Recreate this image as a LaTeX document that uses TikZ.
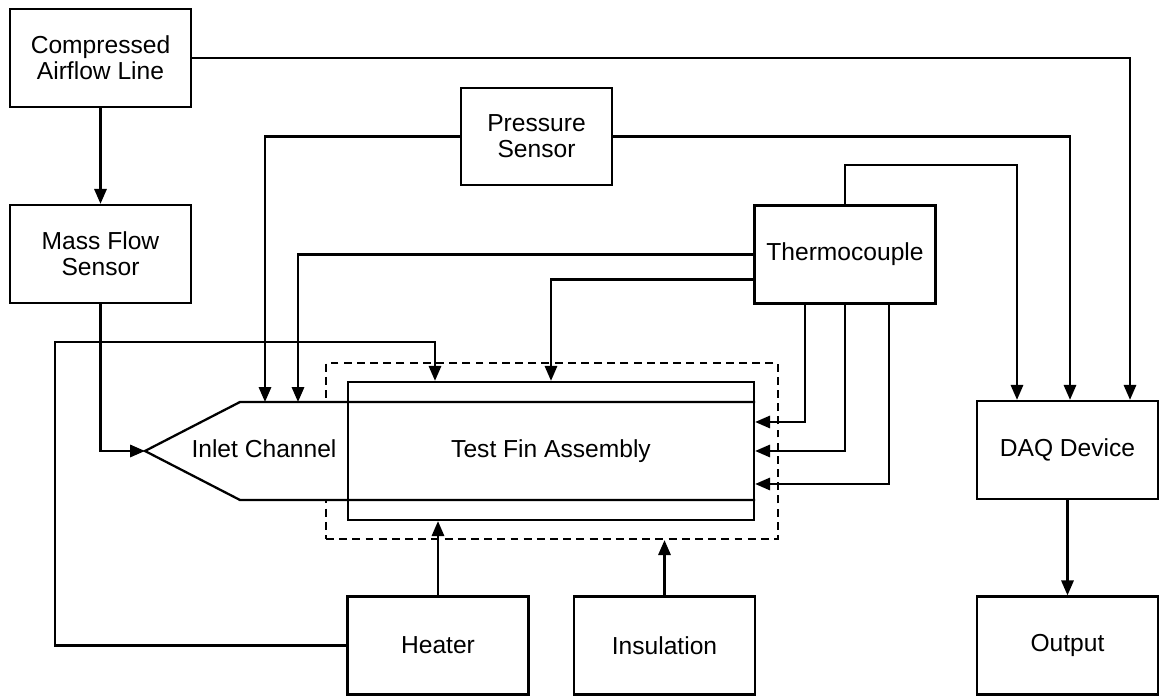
\documentclass[tikz,border=0pt]{standalone}
\usepackage{fontspec}
\setsansfont{Liberation Sans}
\usetikzlibrary{arrows.meta, positioning, calc}

\begin{document}
\begin{tikzpicture}[line width=1.3pt,
          box/.style={draw,minimum width=3.62cm,minimum height=1.96cm,
                      align=center,inner sep=2pt},
          arr/.style={-{Triangle[length=8.5pt,width=7pt]}},
          every node/.style={font=\sffamily\fontsize{14}{14.8}\selectfont}]
        \useasboundingbox (0,0) rectangle (23.2,13.92);
        % boxes
        \node[box](air)  at (2.01,12.76) {Compressed\\Airflow Line};
        \node[box](mfs)  at (2.01,8.84)  {Mass Flow\\Sensor};
        \node[box,minimum width=3.02cm,minimum height=1.94cm](pres) at (10.73,11.19)
          {Pressure\\Sensor};
        \node[box](tc)   at (16.9,8.83)  {Thermocouple};
        \node[box](daq)  at (21.35,4.92) {DAQ Device};
        \node[box](out)  at (21.35,1.01) {Output};
        \node[box](heat) at (8.76,1.01)  {Heater};
        \node[box](ins)  at (13.29,1.01) {Insulation};
        % test section
        \node[draw,dashed,dash pattern=on 4.5pt off 3pt,minimum width=9.04cm,
              minimum height=3.52cm](shield) at (11.04,4.9) {};
        \coordinate (chtop) at (4.8,5.88);
        \coordinate (chbot) at (4.8,3.92);
        \coordinate (tip)   at (2.9,4.9);
        \fill[white] (15.08,5.88) -- (chtop) -- (tip) -- (chbot) -- (15.08,3.92) -- cycle;
        \node[draw,minimum width=8.12cm,minimum height=2.76cm](fin) at (11.02,4.9)
          {Test Fin Assembly};
        \draw (fin.east |- chtop) -- (chtop) -- (tip) -- (chbot) -- (fin.east |- chbot);
        \node(inlet) at (5.28,4.95) {Inlet Channel};
        % connectors
        \draw[arr](air)--(mfs);
        \draw[arr](air.east) -| ($(daq.north)+(1.25,0)$);
        \draw[arr](pres.west) -| ($(chtop)+(0.5,0)$);
        \draw[arr](pres.east) -| ($(daq.north)+(0.05,0)$);
        \draw[arr](tc.north) -- ++(0,0.78) -| ($(daq.north)+(-1.01,0)$);
        \draw[arr](tc.west) -| ($(chtop)+(1.16,0)$);
        \draw[arr]($(tc.west)+(0,-0.5)$) -| (fin.north);
        \draw[arr]($(tc.south)+(-0.8,0)$) |- ($(fin.east)+(0,0.58)$);
        \draw[arr](tc.south) |- (fin.east);
        \draw[arr]($(tc.south)+(0.88,0)$) |- ($(fin.east)+(0,-0.66)$);
        \draw[arr](mfs.south) |- (tip);
        \draw[arr](heat.west) -| (1.1,7.08) -| ($(heat.north |- fin.north)+(-0.06,0)$);
        \draw[arr](heat.north) -- (heat.north |- fin.south);
        \draw[arr](ins.north) -- (ins.north |- shield.south);
        \draw[arr](daq)--(out);
      \end{tikzpicture}
\end{document}
